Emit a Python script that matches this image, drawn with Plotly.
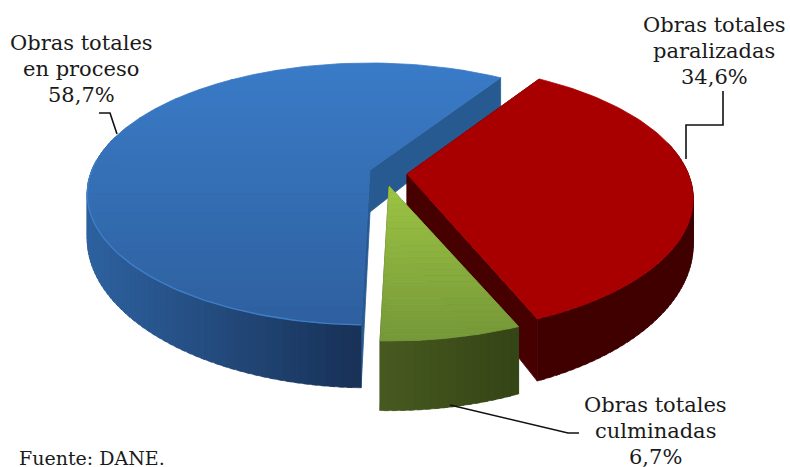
import numpy as np
import plotly.graph_objects as go

# ---- data ----
categories = ["Obras totales\nen proceso", "Obras totales\nparalizadas", "Obras totales\nculminadas"]
values = [58.7, 34.6, 6.7]
value_labels = ["58,7%", "34,6%", "6,7%"]
source_note = "Fuente: DANE."

# ---- styling / view ----
first_angle = 181.5  # clockwise from top where the first slice starts
apex = [(370, 170), (407, 174), (389, 186)]
x_scale = [0.993, 1.005, 1.0]
y_scale = [1.0, 1.03, 1.0]
depths = [42.0, 43.0, 46.5]
top_colors = [((58, 124, 200), (46, 95, 158)), ((168, 0, 0), (168, 0, 0)), ((158, 198, 68), (116, 150, 56))]
top_yrange = [(63, 325), (80, 320), (183, 344)]
wall_colors = [((46, 98, 160), (24, 50, 88)), ((64, 0, 0), (64, 0, 0)), ((72, 90, 32), (52, 68, 22))]
radial_colors = [(40, 90, 146), (70, 0, 0), (60, 76, 26)]
RX, H, P = 280.0, 126.6, 0.183
FONT = "DejaVu Serif"


def rgb(c):
    return "rgb(%d,%d,%d)" % tuple(int(round(v)) for v in c)


def mix(a, b, t):
    return tuple(a[i] + (b[i] - a[i]) * t for i in range(3))


def project(k, theta, r=1.0, depth=False):
    th = np.radians(theta)
    u, v = r * np.sin(th), -r * np.cos(th)
    s = 1.0 / (1.0 - P * v)
    x = apex[k][0] + RX * x_scale[k] * u * s
    y = apex[k][1] + H * y_scale[k] * v * s
    if depth:
        y = y + depths[k] * s * s
    return x, y


def clip(poly, y0, y1):
    def half(pts, keep, cross):
        out = []
        for i in range(len(pts)):
            a, b = pts[i], pts[(i + 1) % len(pts)]
            ka, kb = keep(a), keep(b)
            if ka:
                out.append(a)
            if ka != kb:
                t = (cross - a[1]) / (b[1] - a[1])
                out.append((a[0] + (b[0] - a[0]) * t, cross))
        return out
    p = half(poly, lambda q: q[1] >= y0, y0)
    if p:
        p = half(p, lambda q: q[1] <= y1, y1)
    return p


fig = go.Figure()


def fill(poly, color, width=0.8):
    xs = [q[0] for q in poly] + [poly[0][0]]
    ys = [q[1] for q in poly] + [poly[0][1]]
    fig.add_trace(go.Scatter(x=xs, y=ys, mode="lines", fill="toself", fillcolor=color,
                             line=dict(color=color, width=width), hoverinfo="skip", showlegend=False))


spans = [v / sum(values) * 360 for v in values]
start = first_angle
for k, span in enumerate(spans):
    end = start + span
    thetas = np.linspace(start, end, int(span / 1.5) + 2)
    # radial walls
    for edge in (start, end):
        fill([project(k, edge, 0.0), project(k, edge, 1.0), project(k, edge, 1.0, True), project(k, edge, 0.0, True)],
             rgb(radial_colors[k]))
    # outer wall segments
    for a, b in zip(thetas[:-1], thetas[1:]):
        mid = (a + b) / 2
        th = np.radians(mid)
        if np.cos(th) > 0.25:
            continue
        t = np.clip((project(k, mid)[0] - project(k, 270)[0]) / (project(k, 90)[0] - project(k, 270)[0]), 0, 1)
        if k == 0:
            t = np.clip((project(k, mid)[0] - 87) / (355 - 87), 0, 1)
        elif k == 2:
            t = np.clip((project(k, mid)[0] - 380) / 138, 0, 1)
        fill([project(k, a), project(k, b + 0.8 if b < end - 1 else b),
              project(k, b + 0.8 if b < end - 1 else b, 1.0, True), project(k, a, 1.0, True)],
             rgb(mix(wall_colors[k][0], wall_colors[k][1], t)), width=0.6)
    # top face, banded vertically for the shading
    outline = [project(k, start, 0.0)] + [project(k, q) for q in thetas]
    y0, y1 = top_yrange[k]
    n = 1 if top_colors[k][0] == top_colors[k][1] else 28
    edges = np.linspace(y0 - 2, y1 + 2, n + 1)
    for i in range(n):
        band = clip(outline, edges[i], edges[i + 1])
        if len(band) >= 3:
            fill(band, rgb(mix(top_colors[k][0], top_colors[k][1], (i + 0.5) / n)))
    if k == 0:
        rim = [project(k, q) for q in thetas if np.cos(np.radians(q)) < 0.1]
        fig.add_trace(go.Scatter(x=[q[0] for q in rim], y=[q[1] for q in rim], mode="lines",
                                 line=dict(color="rgb(62,126,200)", width=1.4),
                                 hoverinfo="skip", showlegend=False))
    start = end

label_pos = [(81, 69), (714, 51), (655, 431)]
annotations = []
for cat, val, (cx, cy) in zip(categories, value_labels, label_pos):
    for j, line in enumerate(cat.split("\n") + [val]):
        annotations.append(dict(x=cx, y=cy + (j - 1) * 26, text=line, showarrow=False,
                                xref="x", yref="y", xanchor="center", yanchor="middle",
                                font=dict(family=FONT, size=21, color="#1a1a1a")))
annotations.append(dict(x=17, y=458, text=source_note, showarrow=False, xref="x", yref="y",
                        xanchor="left", yanchor="middle",
                        font=dict(family=FONT, size=19, color="#1a1a1a")))

leaders = ["M99,113 L110,113 L117,134", "M723,91 L723,125 L686,125 L686,159", "M450,405 L568,433 L579,433"]
shapes = [dict(type="path", path=p, xref="x", yref="y", line=dict(color="#111", width=1.6), layer="above")
          for p in leaders]

fig.update_layout(
    width=790, height=467, margin=dict(l=0, r=0, t=0, b=0),
    paper_bgcolor="white", plot_bgcolor="white", showlegend=False,
    xaxis=dict(range=[0, 790], visible=False, fixedrange=True),
    yaxis=dict(range=[467, 0], visible=False, fixedrange=True),
    annotations=annotations, shapes=shapes,
)
fig.write_html("out.html", config={"displayModeBar": False},
               post_script="document.body.style.margin='0';document.documentElement.style.overflow='hidden';")
